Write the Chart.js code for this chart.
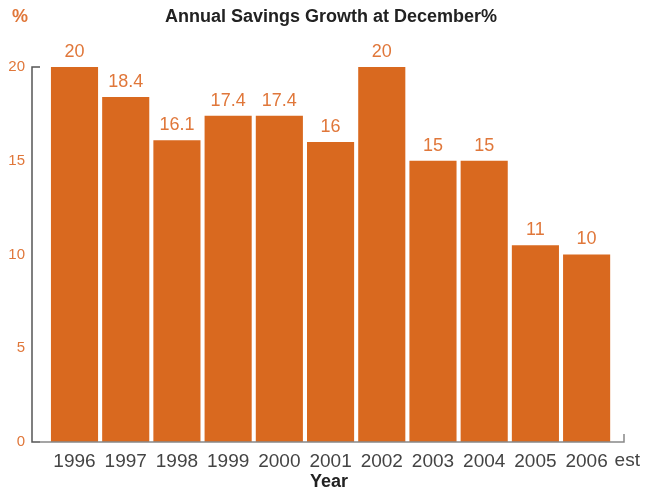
<!DOCTYPE html>
<html>
<head>
  <title>Annual Savings Growth</title>
  <script src="https://cdn.jsdelivr.net/npm/chart.js@4.4.1/dist/chart.umd.min.js"></script>
  <style>
    body { margin: 0; background: #fff; }
    #chart { display: block; }
  </style>
</head>
<body>
  <canvas id="chart" width="646" height="495"></canvas>
  <script>
    var years = ['1996', '1997', '1998', '1999', '2000', '2001', '2002', '2003', '2004', '2005', '2006'];
    var growth = [20, 18.4, 16.1, 17.4, 17.4, 16, 20, 15, 15, 10.5, 10];
    var valueLabels = ['20', '18.4', '16.1', '17.4', '17.4', '16', '20', '15', '15', '11', '10'];
    var yTicks = [0, 5, 10, 15, 20];

    var orange = '#d9691f';
    var textOrange = '#e0773a';
    var font = '"Liberation Sans", Arial, sans-serif';

    // extra text: title, unit, axis title, "est", value labels, axis lines
    var decorations = {
      id: 'decorations',
      afterDraw: function (chart) {
        var ctx = chart.ctx;
        var area = chart.chartArea;
        var x = chart.scales.x, y = chart.scales.y;
        ctx.save();

        // axis lines
        ctx.lineWidth = 1.5;
        ctx.strokeStyle = '#555';
        ctx.beginPath();
        ctx.moveTo(area.left + 8, area.top);
        ctx.lineTo(area.left, area.top);
        ctx.lineTo(area.left, area.bottom);
        ctx.lineTo(area.left + 8, area.bottom);
        ctx.stroke();
        ctx.strokeStyle = '#888';
        ctx.beginPath();
        ctx.moveTo(area.left + 8, area.bottom);
        ctx.lineTo(area.right, area.bottom);
        ctx.lineTo(area.right, area.bottom - 8);
        ctx.stroke();

        // value labels
        ctx.fillStyle = textOrange;
        ctx.font = '18px ' + font;
        ctx.textAlign = 'center';
        ctx.textBaseline = 'bottom';
        growth.forEach(function (v, i) {
          ctx.fillText(valueLabels[i], x.getPixelForValue(i), y.getPixelForValue(v) - 6);
        });

        // titles
        ctx.textBaseline = 'middle';
        ctx.fillStyle = '#222';
        ctx.font = 'bold 18px ' + font;
        ctx.fillText('Annual Savings Growth at December%', 331, 17);
        ctx.fillText('Year', 329, 482);
        ctx.fillStyle = textOrange;
        ctx.fillText('%', 20, 17);

        // "est" after last year
        ctx.fillStyle = '#444';
        ctx.font = '19px ' + font;
        ctx.textAlign = 'left';
        ctx.fillText('est', x.getPixelForValue(years.length - 1) + 28, 461);
        ctx.restore();
      }
    };

    new Chart(document.getElementById('chart'), {
      type: 'bar',
      data: {
        datasets: [{
          data: growth.map(function (v, i) { return { x: i, y: v }; }),
          backgroundColor: orange,
          borderWidth: 0,
          barPercentage: 0.92,
          categoryPercentage: 1.0
        }]
      },
      options: {
        responsive: false,
        animation: false,
        layout: { padding: { top: 67, right: 22, left: 0, bottom: 0 } },
        plugins: {
          legend: { display: false },
          tooltip: { enabled: false }
        },
        scales: {
          x: {
            type: 'linear',
            offset: false,
            min: -0.83,
            max: 10.73,
            grid: { display: false, drawTicks: false },
            border: { display: false },
            afterBuildTicks: function (scale) {
              scale.ticks = years.map(function (_, i) { return { value: i }; });
            },
            afterFit: function (scale) { scale.height = 53; },
            ticks: {
              autoSkip: false,
              maxRotation: 0,
              padding: 8,
              color: '#444',
              font: { family: font, size: 19 },
              callback: function (v) { return years[v]; }
            }
          },
          y: {
            min: 0,
            max: 20,
            grid: { display: false, drawTicks: false },
            border: { display: false },
            afterBuildTicks: function (scale) {
              scale.ticks = yTicks.map(function (v) { return { value: v }; });
            },
            afterFit: function (scale) { scale.width = 32; },
            ticks: {
              padding: 7,
              color: textOrange,
              font: { family: font, size: 15 }
            }
          }
        }
      },
      plugins: [decorations]
    });
  </script>
</body>
</html>
